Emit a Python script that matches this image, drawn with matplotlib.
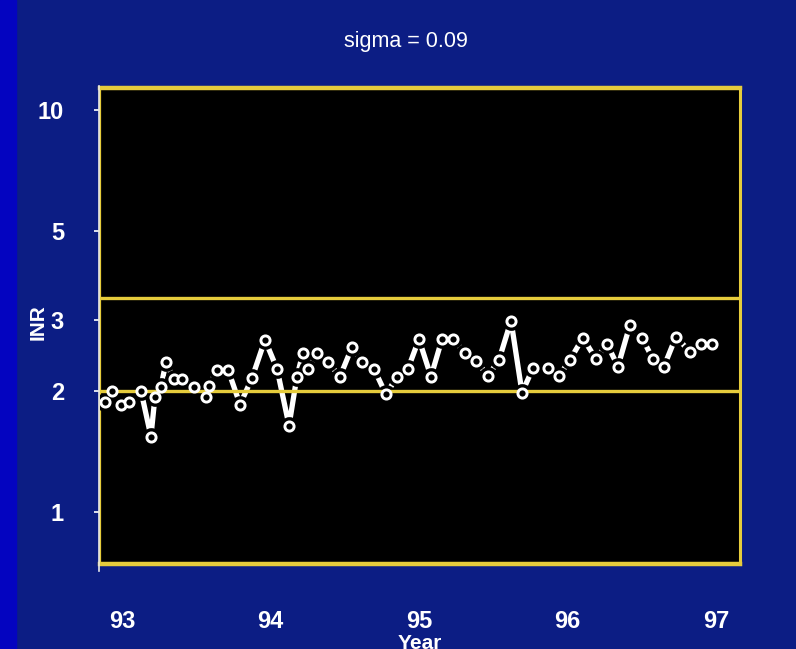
import matplotlib
matplotlib.use("Agg")
import matplotlib.pyplot as plt
from matplotlib import font_manager

# ---- data ----
years = [92.886, 92.933, 92.993, 93.047, 93.128, 93.195, 93.222, 93.263, 93.296, 93.350,
         93.404, 93.485, 93.566, 93.586, 93.640, 93.714, 93.795, 93.875, 93.963, 94.044,
         94.125, 94.178, 94.219, 94.253, 94.313, 94.387, 94.468, 94.549, 94.616, 94.697,
         94.778, 94.852, 94.926, 95.000, 95.081, 95.155, 95.229, 95.310, 95.384, 95.465,
         95.539, 95.620, 95.694, 95.768, 95.869, 95.943, 96.017, 96.104, 96.192, 96.266,
         96.340, 96.421, 96.502, 96.576, 96.650, 96.731, 96.825, 96.899, 96.973]
inr = [1.88, 2.00, 1.85, 1.88, 2.00, 1.54, 1.93, 2.05, 2.36, 2.14,
       2.14, 2.05, 1.93, 2.06, 2.26, 2.26, 1.85, 2.15, 2.68, 2.27,
       1.64, 2.17, 2.49, 2.27, 2.49, 2.36, 2.17, 2.57, 2.36, 2.27,
       1.96, 2.17, 2.27, 2.69, 2.17, 2.69, 2.69, 2.49, 2.38, 2.18,
       2.39, 2.99, 1.98, 2.28, 2.28, 2.18, 2.39, 2.71, 2.40, 2.62,
       2.30, 2.92, 2.71, 2.40, 2.30, 2.73, 2.50, 2.62, 2.62]
ref_lines = [2.0, 3.4]
yticks = [1, 2, 3, 5, 10]
ytick_labels = ["1", "2", "3", "5", "10"]
xticks = [93, 94, 95, 96, 97]
xtick_labels = ["93", "94", "95", "96", "97"]
title = "sigma = 0.09"

# ---- fonts ----
avail = {f.name for f in font_manager.fontManager.ttflist}
fam = "Liberation Sans Narrow" if "Liberation Sans Narrow" in avail else "Liberation Sans"

BG = "#0c1d84"
YEL = "#e6cc3c"

fig = plt.figure(figsize=(7.96, 6.49), dpi=100, facecolor=BG)
# brighter blue strip at left edge of slide
fig.patches.append(plt.Rectangle((0, 0), 16 / 796, 1, transform=fig.transFigure,
                                 color="#0404c0", zorder=0))

ax = fig.add_axes([100 / 796, 1 - 564 / 649, 640 / 796, (564 - 88) / 649])
ax.set_facecolor("black")
ax.set_yscale("log")
ax.set_ylim(0.742, 11.34)
ax.set_xlim(92.852, 97.162)

# connecting line with gaps near markers (black halo), then rings
ax.plot(years, inr, color="white", lw=3.8, solid_capstyle="butt", zorder=2)
ax.plot(years, inr, ls="none", marker="o", ms=13.5, mfc="black", mec="none", zorder=3)
for r in ref_lines:
    ax.axhline(r, color=YEL, lw=2.4, zorder=4)
ax.plot(years, inr, ls="none", marker="o", ms=6.6, mfc="black", mec="white", mew=2.1, zorder=5)

for side, lw in [("top", 3.2), ("bottom", 3.2), ("left", 1.6), ("right", 2.2)]:
    ax.spines[side].set_color(YEL)
    ax.spines[side].set_linewidth(lw)

# white y-axis line just outside left frame
ax.plot([-0.002, -0.002], [-0.015, 1.005], transform=ax.transAxes, color="#e8e8e8",
        lw=1.2, clip_on=False, zorder=6)

ax.set_yticks(yticks)
ax.set_yticklabels(ytick_labels)
ax.yaxis.set_minor_locator(matplotlib.ticker.NullLocator())
ax.set_xticks(xticks)
ax.set_xticklabels(xtick_labels)
ax.tick_params(axis="y", colors="white", length=4, width=1.2, direction="out", pad=22,
               labelsize=17)
ax.tick_params(axis="x", colors="white", length=0, pad=33, labelsize=17)
for lab in ax.get_yticklabels() + ax.get_xticklabels():
    lab.set_fontfamily(fam)
    lab.set_fontweight("bold")
    lab.set_color("white")

ax.set_ylabel("INR", color="white", fontsize=15, fontweight="bold", family=fam)
ax.yaxis.set_label_coords(-0.082, 0.508)
ax.set_xlabel("Year", color="white", fontsize=15, fontweight="bold", family=fam)
ax.xaxis.set_label_coords(0.5, -0.147)

fig.text(406 / 796, 1 - 42 / 649, title, color="white", fontsize=15.5, family=fam,
         ha="center", va="center")

fig.savefig("out.png", dpi=100, facecolor=BG)
